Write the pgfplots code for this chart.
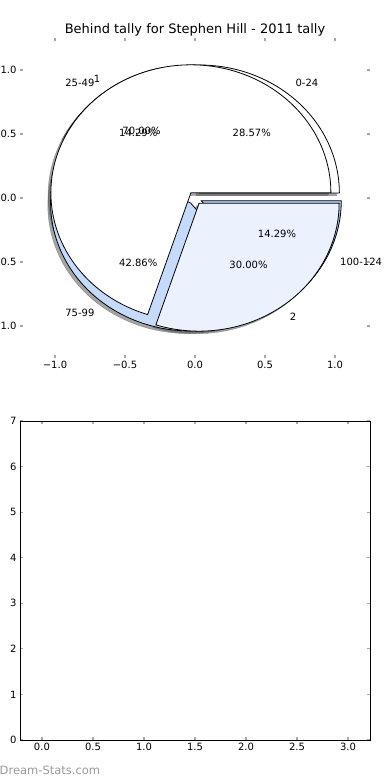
\documentclass[border=0pt]{standalone}
\usepackage{pgfplots}
\pgfplotsset{compat=1.18}
\usepackage{fontspec}
\setmainfont{DejaVu Sans}
\definecolor{pieB}{HTML}{EBF1FD}
\definecolor{pieC}{HTML}{C6DAFC}
\definecolor{pieD}{HTML}{A9C4F5}
\definecolor{tickc}{HTML}{A8A8A8}
\definecolor{wmark}{HTML}{9A9A9A}
\newcommand\lblfont{\fontsize{10}{12}\selectfont}
% wedge: #1 start angle, #2 end angle, #3 dx, #4 dy, #5 style ; explode 0.05, radius 1
\newcommand\pieWedge[5]{%
  \filldraw[#5] (axis cs:{#3+0.05*cos((#1+#2)/2)},{#4+0.05*sin((#1+#2)/2)})
   -- (axis cs:{#3+0.05*cos((#1+#2)/2)+cos(#1)},{#4+0.05*sin((#1+#2)/2)+sin(#1)})
   arc[start angle={#1}, end angle={#2}, radius=1] -- cycle;}
% label: #1 mid angle, #2 anchor, #3 label, #4 percentage
\newcommand\pieLabel[4]{%
  \node[anchor=#2,inner sep=0pt,font=\lblfont] at (axis cs:{1.15*cos(#1)},{1.15*sin(#1)}) {#3};
  \node[inner sep=0pt,font=\lblfont] at (axis cs:{0.65*cos(#1)},{0.65*sin(#1)}) {#4};}
\begin{document}
\begin{tikzpicture}
\useasboundingbox (0,0) rectangle (390pt,780pt);
\clip (0,0) rectangle (390pt,780pt);
\node[font=\fontsize{13}{15}\selectfont] at (195pt,750pt) {Behind tally for Stephen Hill - 2011 tally};
\begin{axis}[
  at={(20pt,422pt)}, anchor=south west, scale only axis,
  width=350pt, height=320pt,
  xmin=-1.25, xmax=1.25, ymin=-1.25, ymax=1.25,
  clip=false,
  axis line style={draw=none},
  tick align=inside, major tick length=3pt,
  tick style={tickc, line width=1.2pt},
  xtick={-1,-0.5,0,0.5,1}, ytick={-1,-0.5,0,0.5,1},
  xticklabels={{−1.0},{−0.5},{0.0},{0.5},{1.0}},
  yticklabels={{−1.0},{−0.5},{0.0},{0.5},{1.0}},
  tick label style={font=\lblfont},
]
% pie 1: values 2, 1, 3, 1 (total 7) ; pie 2: values 7, 3 (total 10)
% shadows
\pieWedge{0}{360*2/7}{-0.02}{-0.02}{black!70, opacity=0.5}
\pieWedge{360*2/7}{360*3/7}{-0.02}{-0.02}{black!70, opacity=0.5}
\pieWedge{360*3/7}{360*6/7}{-0.02}{-0.02}{black!70, opacity=0.5}
\pieWedge{360*6/7}{360}{-0.02}{-0.02}{black!70, opacity=0.5}
\pieWedge{0}{360*0.7}{-0.02}{-0.02}{black!70, opacity=0.5}
\pieWedge{360*0.7}{360}{-0.02}{-0.02}{black!70, opacity=0.5}
% pie 1
\pieWedge{0}{360*2/7}{0}{0}{fill=white, draw=black, line width=0.8pt}
\pieWedge{360*2/7}{360*3/7}{0}{0}{fill=pieB, draw=black, line width=0.8pt}
\pieWedge{360*3/7}{360*6/7}{0}{0}{fill=pieC, draw=black, line width=0.8pt}
\pieWedge{360*6/7}{360}{0}{0}{fill=pieD, draw=black, line width=0.8pt}
% pie 2
\pieWedge{0}{360*0.7}{0}{0}{fill=white, draw=black, line width=0.8pt}
\pieWedge{360*0.7}{360}{0}{0}{fill=pieB, draw=black, line width=0.8pt}
% labels
\pieLabel{360*1/7}{west}{0-24}{28.57\%}
\pieLabel{360*2.5/7}{east}{25-49}{14.29\%}
\pieLabel{360*4.5/7}{east}{75-99}{42.86\%}
\pieLabel{360*6.5/7}{west}{100-124}{14.29\%}
\pieLabel{360*0.35}{east}{1}{70.00\%}
\pieLabel{360*0.85}{west}{2}{30.00\%}
\end{axis}
\begin{axis}[
  at={(20pt,40pt)}, anchor=south west, scale only axis,
  width=350pt, height=319pt,
  xmin=-0.215, xmax=3.215, ymin=0, ymax=7,
  axis line style={black, line width=0.9pt},
  tick align=inside, major tick length=3pt,
  tick style={tickc, line width=1.2pt},
  xtick={0,0.5,1,1.5,2,2.5,3},
  xticklabels={0.0,0.5,1.0,1.5,2.0,2.5,3.0},
  ytick={0,1,2,3,4,5,6,7},
  yticklabels={0,1,2,3,4,5,6,7},
  tick label style={font=\lblfont},
]
\addplot[draw=none] coordinates {(0,0)};
\end{axis}
\node[anchor=west, inner sep=0pt, text=wmark, font=\fontsize{11.5}{13}\selectfont] at (-0.5pt,10pt) {Dream-Stats.com};
\end{tikzpicture}
\end{document}
